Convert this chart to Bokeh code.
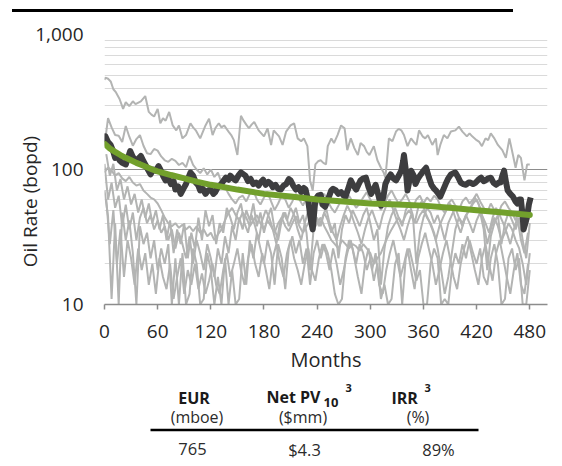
from bokeh.plotting import figure
from bokeh.models import Range1d, FixedTicker, NumeralTickFormatter, Div
from bokeh.layouts import column
from bokeh.embed import file_html
from bokeh.resources import INLINE
from bokeh.core.properties import value

FONT = "Open Sans"
TXT = "#262626"

# ---------------- data ----------------
x_ticks = [0, 60, 120, 180, 240, 300, 360, 420, 480]
y_ticks = [10, 100, 1000]
y_minor = [20, 30, 40, 50, 60, 70, 80, 90, 200, 300, 400, 500, 600, 700, 800, 900]

# type curve (green)
type_m = [0, 6, 12, 18, 24, 30, 36, 42, 48, 54, 60, 75, 90, 105, 120, 150, 180, 210,
          240, 270, 300, 330, 360, 390, 420, 450, 480]
type_v = [155, 143, 135, 128, 122, 117, 112, 108, 104, 100, 97, 91, 86, 81, 77, 71, 66, 63,
          60, 58, 56, 55, 54, 52, 50, 48, 46]

# average well (dark)
avg_m = [0, 1, 4, 7, 10, 12, 15, 17, 20, 24, 27, 29, 32, 35, 38, 41, 44, 46, 49, 52, 55, 58,
         61, 63, 66, 69, 72, 75, 78, 80, 83, 86, 89, 92, 95, 97, 100, 103, 106, 108, 111,
         114, 117, 120, 123, 125, 128, 131, 134, 137, 140, 142, 145, 148, 151, 154, 157,
         159, 162, 165, 168, 171, 174, 176, 179, 182, 185, 188, 190, 193, 196, 199, 202,
         205, 208, 210, 213, 216, 219, 222, 225, 227, 230, 233, 235, 238, 241, 244, 246,
         249, 250, 253, 256, 258, 261, 264, 267, 270, 272, 275, 278, 281, 284, 287, 289,
         292, 295, 298, 301, 304, 306, 309, 312, 315, 317, 320, 323, 326, 329, 332, 335,
         337, 338, 340, 342, 344, 346, 349, 351, 354, 357, 360, 363, 366, 369, 372, 374,
         377, 379, 382, 385, 388, 391, 394, 396, 399, 402, 405, 408, 411, 413, 416, 419,
         422, 425, 428, 430, 433, 436, 439, 442, 445, 447, 449, 451, 453, 455, 458, 461,
         464, 466, 468, 470, 472, 473, 475, 477, 479, 481]
avg_v = [170, 176, 160, 152, 135, 122, 128, 117, 112, 109, 125, 137, 124, 117, 120, 126, 115,
         109, 100, 92, 100, 98, 106, 100, 90, 83, 86, 78, 82, 71, 75, 66, 72, 78, 88, 95, 90,
         80, 76, 70, 72, 66, 70, 71, 66, 68, 74, 77, 82, 87, 84, 90, 86, 83, 90, 95, 92, 90,
         82, 85, 78, 80, 76, 80, 84, 77, 81, 78, 74, 77, 72, 71, 76, 78, 85, 83, 76, 71, 74,
         68, 73, 71, 58, 42, 36, 60, 64, 65, 55, 53, 55, 62, 70, 72, 70, 66, 68, 64, 63, 72,
         83, 76, 71, 78, 83, 86, 87, 74, 66, 72, 77, 65, 54, 64, 78, 86, 92, 86, 83, 90, 98,
         115, 128, 100, 70, 82, 98, 90, 78, 86, 92, 98, 103, 88, 77, 72, 70, 66, 63, 70, 78,
         86, 92, 94, 95, 88, 80, 78, 77, 80, 80, 78, 80, 84, 87, 82, 83, 86, 87, 80, 77, 80,
         80, 90, 98, 82, 70, 66, 63, 58, 56, 60, 60, 45, 36, 40, 45, 55, 62]

# highest well (light grey)
top_m = [0, 1, 4, 7, 10, 13, 17, 21, 24, 28, 32, 35, 41, 46, 50, 53, 56, 60, 63, 66, 69, 73,
         77, 81, 84, 88, 92, 97, 100, 103, 108, 111, 114, 118, 122, 125, 129, 132, 135, 140,
         143, 146, 150, 154, 157, 160, 163, 166, 169, 174, 180, 184, 188, 191, 194, 197,
         201, 205, 210, 214, 218, 222, 225, 229, 232, 235, 238, 241, 244, 247, 250, 252,
         256, 259, 263, 267, 271, 274, 278, 282, 286, 289, 293, 296, 299, 304, 308, 312,
         315, 317, 319, 321, 325, 329, 332, 335, 338, 342, 346, 349, 352, 355, 359, 362,
         365, 370, 374, 376, 379, 383, 387, 391, 396, 400, 404, 409, 412, 415, 420, 423,
         426, 430, 433, 436, 440, 444, 449, 453, 457, 461, 464, 467, 470, 474, 477, 480]
top_v = [460, 480, 470, 449, 393, 372, 333, 281, 315, 295, 320, 305, 320, 350, 267, 255, 247,
         281, 220, 240, 230, 267, 212, 195, 212, 170, 180, 220, 205, 195, 170, 190, 212, 238,
         180, 202, 220, 205, 212, 191, 180, 165, 128, 250, 230, 215, 202, 215, 225, 195, 176,
         202, 152, 195, 185, 176, 152, 191, 212, 220, 170, 162, 170, 149, 83, 70, 109, 115,
         117, 112, 109, 149, 170, 157, 180, 212, 202, 139, 170, 144, 128, 157, 149, 135, 128,
         149, 117, 103, 95, 87, 120, 170, 162, 191, 200, 195, 180, 149, 170, 160, 152, 195,
         176, 170, 180, 152, 170, 128, 152, 180, 170, 191, 195, 208, 191, 176, 185, 176, 165,
         160, 149, 170, 165, 185, 170, 152, 139, 122, 170, 128, 103, 128, 122, 83, 109, 109]

# remaining wells (light grey), read every 4 months
grid_m = list(range(0, 481, 4))
well_b = [150, 240, 205, 180, 178, 160, 210, 175, 150, 168, 180, 150, 132, 130, 142, 138,
          125, 117, 114, 120, 116, 108, 112, 104, 126, 108, 100, 94, 102, 92, 100, 88, 95,
          80, 74, 66, 60, 56, 62, 64, 58, 66, 70, 60, 55, 62, 68, 58, 50, 56, 64, 60, 52, 58,
          66, 60, 54, 62, 58, 50, 55, 62, 66, 58, 52, 48, 54, 60, 56, 64, 58, 52, 56, 62, 68,
          60, 54, 58, 50, 56, 64, 70, 62, 56, 60, 66, 58, 52, 60, 64, 56, 62, 58, 64, 60, 52,
          48, 56, 60, 54, 50, 58, 62, 56, 60, 66, 58, 52, 48, 56, 50, 46, 54, 58, 52, 48, 42,
          50, 44, 38, 46]
well_c = [95, 104, 98, 90, 94, 86, 82, 88, 80, 76, 78, 70, 66, 62, 60, 56, 50, 44, 40, 38,
          40, 37, 39, 36, 38, 35, 38, 34, 36, 32, 34, 30, 33, 36, 42, 48, 52, 46, 42, 48, 44,
          38, 42, 46, 40, 36, 42, 38, 34, 40, 44, 38, 35, 40, 45, 38, 34, 38, 42, 36, 40, 44,
          38, 34, 30, 28, 26, 30, 28, 26, 28, 27, 25, 28, 26, 24, 20, 22, 24, 28, 32, 36, 40,
          44, 40, 46, 50, 44, 40, 46, 50, 44, 40, 34, 26, 18, 12, 16, 24, 36, 44, 40, 46, 50,
          56, 60, 52, 40, 28, 36, 44, 38, 30, 34, 40, 36, 30, 26, 20, 14, 24]
well_d = [70, 45, 11, 40, 10, 48, 30, 42, 24, 10, 38, 28, 34, 22, 30, 18, 26, 20, 28, 10,
          22, 10, 24, 10, 12, 26, 20, 10, 11, 24, 18, 10, 16, 10, 22, 10, 18, 10, 11, 24, 14,
          30, 22, 34, 26, 20, 30, 24, 14, 28, 22, 13, 26, 32, 24, 30, 20, 26, 14, 24, 30, 22,
          28, 24, 18, 12, 10, 11, 22, 30, 26, 20, 28, 24, 18, 22, 15, 20, 11, 14, 10, 11, 20,
          24, 10, 22, 26, 20, 15, 18, 10, 10, 20, 26, 22, 10, 11, 10, 18, 24, 20, 28, 22, 30,
          24, 20, 26, 16, 14, 22, 28, 20, 10, 11, 22, 26, 18, 22, 10, 10, 18]
well_e = [110, 60, 80, 52, 64, 38, 55, 36, 48, 30, 44, 52, 40, 46, 36, 42, 34, 38, 30, 36,
          26, 34, 28, 22, 32, 20, 30, 24, 18, 28, 22, 16, 26, 20, 32, 24, 38, 30, 44, 36, 50,
          42, 56, 38, 48, 34, 44, 52, 36, 30, 42, 48, 38, 44, 52, 40, 46, 34, 18, 36, 44, 38,
          48, 42, 34, 40, 22, 36, 46, 40, 50, 44, 38, 46, 52, 40, 30, 36, 14, 26, 38, 46, 52,
          44, 38, 50, 56, 46, 20, 34, 44, 52, 48, 40, 46, 38, 30, 40, 46, 52, 44, 38, 46, 40,
          34, 42, 48, 36, 18, 32, 40, 46, 28, 40, 48, 42, 36, 44, 30, 22, 40]

# two more wells, read every 4 months starting at month 2
grid_m2 = list(range(2, 480, 4))
well_f = [130, 90, 110, 70, 85, 60, 75, 55, 66, 48, 60, 44, 56, 40, 50, 36, 46, 30, 42, 24,
          36, 28, 40, 22, 34, 26, 44, 30, 50, 38, 46, 28, 40, 34, 52, 44, 36, 48, 56, 40,
          34, 46, 38, 30, 42, 50, 44, 36, 28, 40, 48, 42, 52, 46, 36, 30, 40, 50, 58, 46,
          38, 44, 52, 40, 34, 30, 38, 46, 54, 48, 40, 34, 28, 36, 44, 50, 42, 36, 46, 54,
          60, 50, 42, 36, 30, 38, 46, 40, 52, 58, 48, 42, 36, 30, 38, 44, 50, 56, 48, 40,
          34, 42, 48, 54, 62, 56, 46, 40, 34, 44, 52, 46, 40, 34, 28, 36, 44, 30, 24, 34]
well_g = [60, 28, 50, 20, 36, 16, 30, 22, 14, 26, 18, 24, 14, 20, 12, 22, 16, 13, 20, 11,
          16, 22, 12, 18, 14, 20, 13, 17, 12, 15, 20, 14, 12, 18, 24, 16, 20, 26, 18, 14,
          22, 28, 20, 16, 24, 18, 13, 22, 28, 20, 16, 24, 30, 22, 18, 14, 20, 26, 18, 15,
          22, 28, 24, 18, 26, 20, 14, 18, 24, 30, 22, 16, 12, 20, 26, 18, 24, 14, 12, 18,
          24, 30, 22, 16, 20, 26, 18, 13, 22, 28, 34, 26, 20, 14, 18, 24, 30, 22, 16, 13,
          20, 26, 32, 24, 18, 14, 22, 28, 20, 15, 24, 30, 22, 16, 12, 18, 24, 14, 12, 20]

assert len(type_m) == len(type_v)
assert len(avg_m) == len(avg_v)
assert len(top_m) == len(top_v)
for w in (well_b, well_c, well_d, well_e):
    assert len(w) == len(grid_m)
for w in (well_f, well_g):
    assert len(w) == len(grid_m2)

# table
tbl_head = ["EUR", "Net PV", "IRR"]
tbl_units = ["(mboe)", "($mm)", "(%)"]
tbl_vals = ["765", "$4.3", "89%"]

# ---------------- top rule ----------------
top = Div(text='<div style="margin:0 0 0 12px;width:501px;border-top:3px solid #000;"></div>',
          width=554, height=20, margin=(0, 0, 0, 0))

# ---------------- chart ----------------
p = figure(width=554, height=355, y_axis_type="log",
           x_range=Range1d(0, 500), y_range=Range1d(10, 1000),
           toolbar_location=None, output_backend="svg",
           min_border_left=104, min_border_right=7, min_border_top=14, min_border_bottom=65)
p.outline_line_color = None
p.background_fill_color = "white"

p.xgrid.grid_line_color = None
p.yaxis.ticker = FixedTicker(ticks=y_ticks, minor_ticks=y_minor)
p.ygrid.grid_line_color = "#8c8c8c"
p.ygrid.grid_line_width = 1
p.ygrid.minor_grid_line_color = "#dadada"
p.ygrid.minor_grid_line_width = 1

p.yaxis.formatter = NumeralTickFormatter(format="0,0")
p.yaxis.axis_line_color = None
p.yaxis.major_tick_line_color = None
p.yaxis.minor_tick_line_color = None
p.yaxis.major_tick_out = 0
p.yaxis.major_label_standoff = 17
# non-breaking spaces pad the (upward-reading) title so the visible words sit lower
p.yaxis.axis_label = "Oil Rate (bopd)" + "\u00a0" * 13
p.yaxis.axis_label_standoff = -11

p.xaxis.ticker = FixedTicker(ticks=x_ticks)
p.xaxis.axis_line_color = "#8c8c8c"
p.xaxis.axis_line_width = 1.5
p.xaxis.major_tick_line_color = "#8c8c8c"
p.xaxis.major_tick_line_width = 1.5
p.xaxis.major_tick_out = 5
p.xaxis.major_tick_in = 0
p.xaxis.minor_tick_line_color = None
p.xaxis.major_label_standoff = 15
p.xaxis.axis_label = "Months"
p.xaxis.axis_label_standoff = 5

for ax in (p.xaxis, p.yaxis):
    ax.major_label_text_font = FONT
    ax.major_label_text_font_size = "19px"
    ax.major_label_text_color = TXT
    ax.axis_label_text_font = FONT
    ax.axis_label_text_font_style = "normal"
    ax.axis_label_text_color = TXT
p.xaxis.axis_label_text_font_size = "20px"
p.yaxis.axis_label_text_font_size = "19px"

GREY = "#b3b4b3"
for ys in (well_d, well_e, well_c, well_b):
    p.line(x=grid_m, y=ys, line_color=GREY, line_width=2)
for ys in (well_f, well_g):
    p.line(x=grid_m2, y=ys, line_color=GREY, line_width=2)
p.line(x=top_m, y=top_v, line_color=GREY, line_width=2)
p.line(x=avg_m, y=avg_v, line_color="#3d3d3f", line_width=6, line_join="round")
p.line(x=type_m, y=type_v, line_color="#72a02c", line_width=6, line_cap="round")

# ---------------- table (page-pixel coordinates) ----------------
t = figure(width=554, height=86, x_range=Range1d(104, 547), y_range=Range1d(461, 375),
           x_axis_type=None, y_axis_type=None, toolbar_location=None,
           output_backend="svg", min_border_left=104, min_border_right=7,
           min_border_top=0, min_border_bottom=0)
t.outline_line_color = None
t.grid.visible = False

bold = dict(text_font=value(FONT), text_font_style="bold", text_color="#1a1a1a",
            text_baseline="middle")
t.text(x=[193.5], y=[397.5], text=[tbl_head[0]], text_align="center",
       text_font_size=value("16px"), **bold)
t.text(x=[266], y=[396.5], text=[tbl_head[1]], text_align="left",
       text_font_size=value("16px"), **bold)
t.text(x=[323], y=[402], text=["10"], text_align="left",
       text_font_size=value("13px"), **bold)
t.text(x=[345], y=[387.5], text=["3"], text_align="left",
       text_font_size=value("11px"), **bold)
t.text(x=[391], y=[397.5], text=[tbl_head[2]], text_align="left",
       text_font_size=value("16px"), **bold)
t.text(x=[424], y=[387.5], text=["3"], text_align="left",
       text_font_size=value("11px"), **bold)

t.text(x=[196.5, 302.5, 417.5], y=[416.5, 416.5, 416.5], text=tbl_units,
       text_align="center", text_baseline="middle", text_font=value(FONT),
       text_font_size=value("16px"), text_color="#2b2b2b")
t.line(x=[150, 478], y=[429.5, 429.5], line_color="black", line_width=2.5)
t.text(x=[192, 304, 438], y=[448.5, 448.5, 448.5], text=tbl_vals, text_align="center",
       text_baseline="middle", text_font=value(FONT), text_font_size=value("16.5px"),
       text_color="#2b2b2b")

layout = column(top, p, t, spacing=0)
open("out.html", "w").write(file_html(layout, INLINE))
